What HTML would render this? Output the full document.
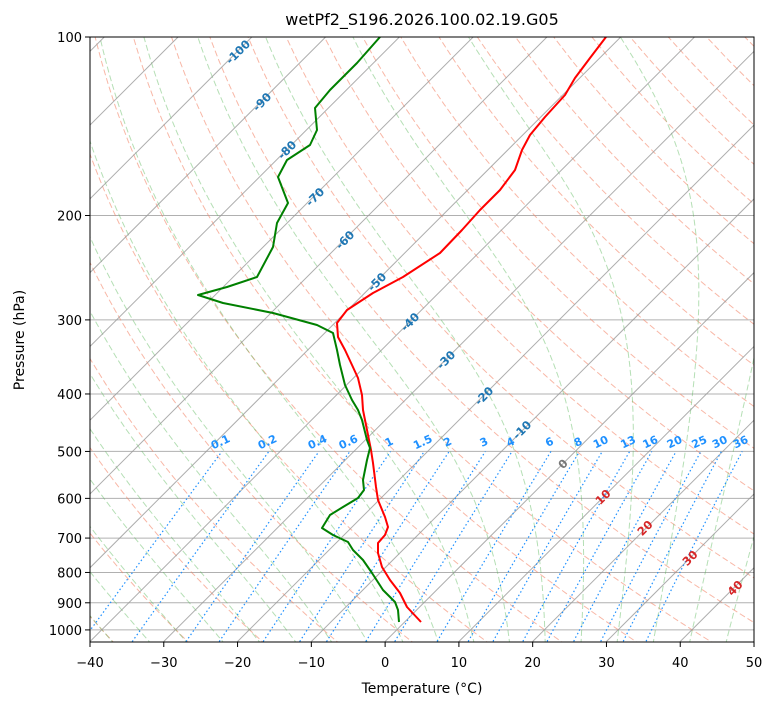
<!DOCTYPE html>
<html><head><meta charset="utf-8">
<style>
body{margin:0;background:#fff;}
svg{display:block;font-family:"DejaVu Sans","Liberation Sans",sans-serif;}
</style></head>
<body>
<svg id="s" width="775" height="708" viewBox="0 0 775 708" xmlns="http://www.w3.org/2000/svg">
<defs><clipPath id="c"><rect x="90" y="37" width="664" height="605"/></clipPath></defs>
<rect width="775" height="708" fill="#fff"/>
<g id="bg" clip-path="url(#c)"></g>
<g id="fg" clip-path="url(#c)">
<polyline fill="none" stroke="#ff0000" stroke-width="2" stroke-linejoin="round" points="421,622 407,607 400,593 390,580 382,567 378,553 378,543 385,535 388,527 385,517 378,500 376,487 373,463 371,450 366,425 363,410 362,395 358,378 352,365 345,350 338,337 337,323 347,310 373,293 403,277 440,253 462,230 480,210 500,190 515,170 522,150 530,135 545,117 565,95 575,78 590,58 606,37"/>
<polyline fill="none" stroke="#008000" stroke-width="2" stroke-linejoin="round" points="399,622 398,610 395,602 383,590 372,573 363,560 353,550 348,542 333,535 322,528 330,515 343,507 358,498 364,490 363,480 367,460 370,448 367,440 362,420 358,410 352,400 345,385 340,365 337,350 333,333 317,325 273,313 223,303 198,295 227,287 257,277 273,247 277,223 288,203 278,177 287,160 310,145 317,130 315,108 330,90 357,63 380,37"/>
</g>
<g id="lab"></g>
<rect x="90" y="37" width="664" height="605" fill="none" stroke="#000" stroke-width="1"/>
<g id="ax" font-size="13" fill="#000"></g>
<text x="422" y="25" font-size="16" text-anchor="middle">wetPf2_S196.2026.100.02.19.G05</text>
<text x="422" y="693" font-size="14" text-anchor="middle">Temperature (°C)</text>
<text x="24" y="340" font-size="14" text-anchor="middle" transform="rotate(-90 24 340)">Pressure (hPa)</text>
</svg>
<script>
var NS="http://www.w3.org/2000/svg";
function Y(p){return 37+257.5*Math.log(p/100);}
function X(T,p){return 90+(T+40)*7.378+(642-Y(p));}
function el(par,tag,a,txt){var e=document.createElementNS(NS,tag);for(var k in a)e.setAttribute(k,a[k]);if(txt!==undefined)e.textContent=txt;document.getElementById(par).appendChild(e);return e;}
function poly(par,pts,st,w,dash,op){el(par,"polyline",{points:pts.map(function(q){return q[0].toFixed(1)+","+q[1].toFixed(1);}).join(" "),fill:"none",stroke:st,"stroke-width":w,"stroke-dasharray":dash||"","stroke-opacity":op||1});}
[200,300,400,500,600,700,800,900,1000].forEach(function(p){el("bg","line",{x1:90,x2:754,y1:Y(p),y2:Y(p),stroke:"#b0b0b0","stroke-width":1});});
for(var th=-40;th<=220;th+=10){var pts=[];for(var p=1060;p>=95;p-=10){var T=(th+273.15)*Math.pow(p/1000,0.2857)-273.15;pts.push([X(T,p),Y(p)]);}poly("bg",pts,"#f4876a",1,"6,3",0.6);}
function dTdp(T,p){var Tk=T+273.15;var es=6.112*Math.exp(17.67*T/(T+243.5));var rs=0.622*es/(p-es);var Rd=287,cp=1005,Lv=2.5e6,eps=0.622;return (Rd*Tk+Lv*rs)/(p*(cp+Lv*Lv*rs*eps/(Rd*Tk*Tk)));}
for(var t0=-50;t0<=45;t0+=5){var T=t0,p=1000;var up=[];for(p=1000;p>=100;p-=5){up.push([X(T,p),Y(p)]);T-=5*dTdp(T,p);}
T=t0;var dn=[];for(p=1000;p<=1060;p+=5){dn.unshift([X(T,p),Y(p)]);T+=5*dTdp(T,p);}poly("bg",dn.concat(up),"#5cb85c",1,"6,3",0.45);}
for(var t=-200;t<=50;t+=10){el("bg","line",{x1:X(t,1050),y1:642,x2:X(t,1050)+700,y2:-58,stroke:"#999","stroke-width":1,"stroke-opacity":0.8});}
var ws=[0.1,0.2,0.4,0.6,1,1.5,2,3,4,6,8,10,13,16,20,25,30,36];
function Td(w,p){w/=1000;var e=p*w/(0.622+w);var l=Math.log(e/6.112);return 243.5*l/(17.67-l);}
ws.forEach(function(w){var pts=[];for(var p=1060;p>=500;p-=10)pts.push([X(Td(w,p),p),Y(p)]);poly("bg",pts,"#1e90ff",1.2,"1.5,2.5");
var x=X(Td(w,500),500),y=Y(500)-6;el("lab","text",{x:x,y:y,"font-size":11,"font-weight":"bold",fill:"#1e90ff","text-anchor":"middle",transform:"rotate(-25 "+x+" "+y+")"},String(w));});
var il=[[-100,238,52],[-90,262,102],[-80,287,150],[-70,315,197],[-60,345,240],[-50,377,282],[-40,410,322],[-30,446,360],[-20,484,396],[-10,522,430],[0,563,464],[10,603,497],[20,645,528],[30,690,558],[40,735,588]];
il.forEach(function(a){var c=a[0]<0?"#1f77b4":(a[0]==0?"#777":"#d62728");el("lab","text",{x:a[1],y:a[2]+4,"font-size":11.5,"font-weight":"bold",fill:c,"text-anchor":"middle",transform:"rotate(-45 "+a[1]+" "+(a[2])+")"},String(a[0]));});
for(var t=-40;t<=50;t+=10){var x=90+(t+40)*7.378;el("ax","line",{x1:x,x2:x,y1:642,y2:647,stroke:"#000"});el("ax","text",{x:x,y:667,"text-anchor":"middle"},(t<0?"\u2212"+(-t):String(t)));}
[100,200,300,400,500,600,700,800,900,1000].forEach(function(p){var y=Y(p);el("ax","line",{x1:85,x2:90,y1:y,y2:y,stroke:"#000"});el("ax","text",{x:82,y:y+5,"text-anchor":"end"},String(p));});
</script>
</body></html>
